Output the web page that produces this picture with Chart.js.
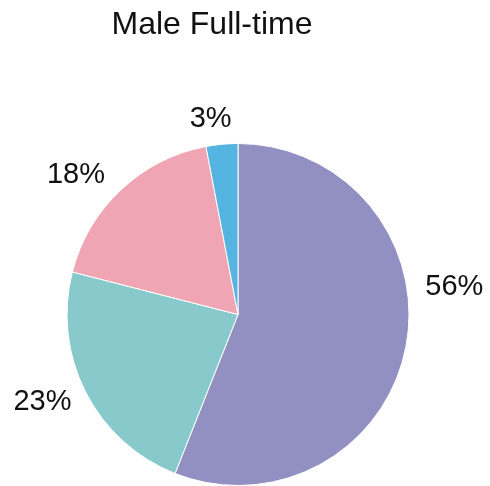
<!DOCTYPE html>
<html>
<head>
<meta charset="utf-8">
<script src="https://cdn.jsdelivr.net/npm/chart.js@4"></script>
<style>
    html, body { margin: 0; padding: 0; background: #fff; }
    #wrap { width: 490px; height: 486px; }
</style>
</head>
<body>
<div id="wrap"><canvas id="myChart" width="490" height="486"></canvas></div>
<script>
const labels = ['Group A', 'Group B', 'Group C', 'Group D'];
const values = [56, 23, 18, 3];
const colors = ['#9290c3', '#88c9cc', '#f0a5b5', '#56b4e0'];
const title = 'Male Full-time';

// small nudges so the outside labels sit where the reference has them
const labelShift = [
    { angle: -18, dist: 47 },
    { angle: 3, dist: 43 },
    { angle: -6, dist: 43 },
    { angle: -2.6, dist: 26 }
];

const outsideLabels = {
    id: 'outsideLabels',
    afterDraw(chart) {
        const ctx = chart.ctx;
        const meta = chart.getDatasetMeta(0);
        ctx.save();
        ctx.fillStyle = '#111';
        ctx.textAlign = 'center';
        ctx.textBaseline = 'middle';
        ctx.font = '29px "Liberation Sans", Arial, sans-serif';
        meta.data.forEach((arc, i) => {
            const p = arc.getProps(['x', 'y', 'startAngle', 'endAngle', 'outerRadius'], true);
            const s = labelShift[i] || { angle: 0, dist: 40 };
            const mid = (p.startAngle + p.endAngle) / 2 + s.angle * Math.PI / 180;
            const r = p.outerRadius + s.dist;
            ctx.fillText(values[i] + '%', p.x + Math.cos(mid) * r, p.y + Math.sin(mid) * r);
        });
        // title
        ctx.font = '32px "Liberation Sans", Arial, sans-serif';
        ctx.fillText(title, 212, 25);
        ctx.restore();
    }
};

let data = {
    labels: labels,
    datasets: [{
        data: values,
        backgroundColor: colors,
        borderColor: '#fff',
        borderWidth: 1
    }]
};

let config = {
    type: 'pie',
    data: data,
    options: {
        responsive: false,
        animation: false,
        layout: {
            padding: { top: 143, bottom: -1, left: 66, right: 80 }
        },
        plugins: {
            legend: { display: false },
            tooltip: { enabled: false }
        }
    },
    plugins: [outsideLabels]
};

let myChart = new Chart(document.getElementById('myChart'), config);
</script>
</body>
</html>
